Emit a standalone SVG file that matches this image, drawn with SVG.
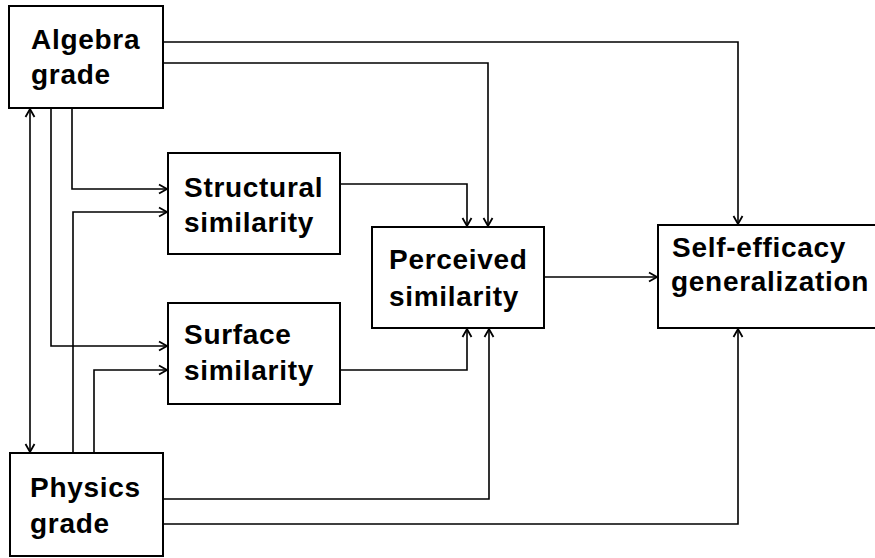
<svg xmlns="http://www.w3.org/2000/svg" width="875" height="558" viewBox="0 0 875 558">
<defs>
<marker id="arr" markerUnits="userSpaceOnUse" markerWidth="12" markerHeight="12" viewBox="-1 -6 10 12" refX="8" refY="0" orient="auto-start-reverse">
<path d="M0,-4.5 L8,0 L0,4.5" fill="none" stroke="#000" stroke-width="1.8"/>
</marker>
</defs>
<style>
.box{fill:#fff;stroke:#000;stroke-width:2}
.lbl{font-family:"Liberation Sans",Arial,sans-serif;font-weight:bold;font-size:28px;letter-spacing:0.7px;fill:#000}
.c{fill:none;stroke:#000;stroke-width:1.6;marker-end:url(#arr)}
</style>
<rect width="875" height="558" fill="#fff"/>
<g id="connectors">
<path class="c" d="M163,42 H738 V224"/>
<path class="c" d="M163,63 H488 V226"/>
<path class="c" d="M72,108 V189 H167"/>
<path class="c" d="M51,108 V346 H167"/>
<path class="c" d="M30,109 V452" style="marker-start:url(#arr)"/>
<path class="c" d="M73,453 V212 H167"/>
<path class="c" d="M94,453 V370 H167"/>
<path class="c" d="M163,499 H489 V329"/>
<path class="c" d="M163,524 H738 V329"/>
<path class="c" d="M340,184 H467 V226"/>
<path class="c" d="M340,370 H467 V329"/>
<path class="c" d="M544,277 H657"/>
</g>
<g id="algebra">
<rect class="box" x="9" y="6" width="154" height="102"/>
<text class="lbl" x="31" y="49">Algebra</text>
<text class="lbl" x="31" y="84">grade</text>
</g>
<g id="physics">
<rect class="box" x="10" y="453" width="153" height="103"/>
<text class="lbl" x="30" y="497">Physics</text>
<text class="lbl" x="30" y="533">grade</text>
</g>
<g id="structural">
<rect class="box" x="168" y="153" width="172" height="101"/>
<text class="lbl" x="184" y="197">Structural</text>
<text class="lbl" x="184" y="232">similarity</text>
</g>
<g id="surface">
<rect class="box" x="168" y="303" width="172" height="101"/>
<text class="lbl" x="184" y="344">Surface</text>
<text class="lbl" x="184" y="380">similarity</text>
</g>
<g id="perceived">
<rect class="box" x="372" y="227" width="172" height="101"/>
<text class="lbl" x="389" y="269">Perceived</text>
<text class="lbl" x="389" y="306">similarity</text>
</g>
<g id="selfefficacy">
<rect class="box" x="658" y="225" width="222" height="103"/>
<text class="lbl" x="672" y="257">Self-efficacy</text>
<text class="lbl" x="671" y="291">generalization</text>
</g>
</svg>
